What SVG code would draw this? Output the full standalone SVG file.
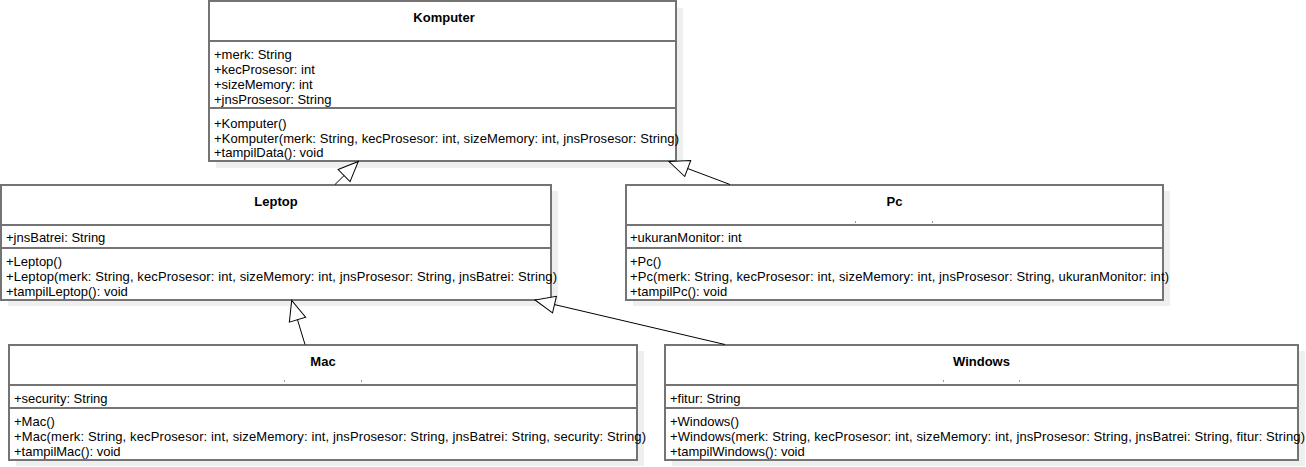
<svg xmlns="http://www.w3.org/2000/svg" width="1306" height="467" viewBox="0 0 1306 467">
<style>
.bg{fill:#ffffff}
.shadow{fill:#efefef}
.box{fill:#ffffff;stroke:#747474;stroke-width:2}
.sep{stroke:#747474;stroke-width:2}
.t{font-family:"Liberation Sans",Arial,sans-serif;font-size:13px;fill:#000}
.title{font-weight:bold;text-anchor:middle}
.edge{stroke:#000;stroke-width:1;fill:none;marker-end:url(#gen)}
.tick{fill:#9a9a9a}
</style>
<defs>
<marker id="gen" markerUnits="userSpaceOnUse" markerWidth="22" markerHeight="19" viewBox="-1 -1 22 19" refX="20" refY="8.5" orient="auto">
<path d="M0,0 L20,8.5 L0,17 Z" fill="#fff" stroke="#000" stroke-width="1"/>
</marker>
</defs>
<rect class="bg" x="0" y="0" width="1306" height="467"/>

<g id="komputer">
<rect class="shadow" x="216" y="8" width="467" height="160"/>
<rect class="box" x="209" y="1" width="467" height="160"/>
<line class="sep" x1="209" y1="41" x2="676" y2="41"/>
<line class="sep" x1="209" y1="108" x2="676" y2="108"/>
<text class="t title" x="444" y="21.5">Komputer</text>
<text class="t" x="214" y="59">+merk: String</text>
<text class="t" x="214" y="74">+kecProsesor: int</text>
<text class="t" x="214" y="89">+sizeMemory: int</text>
<text class="t" x="214" y="104">+jnsProsesor: String</text>
<text class="t" x="214" y="127.5">+Komputer()</text>
<text class="t" x="214" y="142.5" textLength="465" lengthAdjust="spacing">+Komputer(merk: String, kecProsesor: int, sizeMemory: int, jnsProsesor: String)</text>
<text class="t" x="214" y="157">+tampilData(): void</text>
</g>

<g id="leptop">
<rect class="shadow" x="8" y="191" width="550" height="115"/>
<rect class="box" x="1" y="185" width="550" height="115"/>
<line class="sep" x1="1" y1="225" x2="551" y2="225"/>
<line class="sep" x1="1" y1="248" x2="551" y2="248"/>
<text class="t title" x="276" y="205.5">Leptop</text>
<text class="t" x="6" y="242">+jnsBatrei: String</text>
<text class="t" x="6" y="266">+Leptop()</text>
<text class="t" x="6" y="281" textLength="551" lengthAdjust="spacing">+Leptop(merk: String, kecProsesor: int, sizeMemory: int, jnsProsesor: String, jnsBatrei: String)</text>
<text class="t" x="6" y="296">+tampilLeptop(): void</text>
</g>

<g id="pc">
<rect class="shadow" x="633" y="191" width="537" height="115"/>
<rect class="box" x="626" y="185" width="537" height="115"/>
<line class="sep" x1="626" y1="225" x2="1163" y2="225"/>
<line class="sep" x1="626" y1="248" x2="1163" y2="248"/>
<text class="t title" x="894.5" y="205.5">Pc</text>
<rect class="tick" x="855" y="221" width="1" height="2"/>
<rect class="tick" x="932" y="221" width="1" height="2"/>
<text class="t" x="630" y="242">+ukuranMonitor: int</text>
<text class="t" x="630" y="266">+Pc()</text>
<text class="t" x="630" y="281" textLength="539" lengthAdjust="spacing">+Pc(merk: String, kecProsesor: int, sizeMemory: int, jnsProsesor: String, ukuranMonitor: int)</text>
<text class="t" x="630" y="296">+tampilPc(): void</text>
</g>

<g id="mac">
<rect class="shadow" x="16" y="351" width="628" height="115"/>
<rect class="box" x="9" y="345" width="628" height="115"/>
<line class="sep" x1="9" y1="385" x2="637" y2="385"/>
<line class="sep" x1="9" y1="408" x2="637" y2="408"/>
<text class="t title" x="323" y="365.5">Mac</text>
<rect class="tick" x="284" y="380" width="1" height="2"/>
<rect class="tick" x="361" y="380" width="1" height="2"/>
<text class="t" x="14" y="402.5">+security: String</text>
<text class="t" x="14" y="426">+Mac()</text>
<text class="t" x="14" y="441" textLength="632" lengthAdjust="spacing">+Mac(merk: String, kecProsesor: int, sizeMemory: int, jnsProsesor: String, jnsBatrei: String, security: String)</text>
<text class="t" x="14" y="456">+tampilMac(): void</text>
</g>

<g id="windows">
<rect class="shadow" x="672" y="351" width="633" height="115"/>
<rect class="box" x="665" y="345" width="633" height="115"/>
<line class="sep" x1="665" y1="385" x2="1298" y2="385"/>
<line class="sep" x1="665" y1="408" x2="1298" y2="408"/>
<text class="t title" x="981.5" y="365.5">Windows</text>
<rect class="tick" x="943" y="380" width="1" height="2"/>
<rect class="tick" x="1019" y="380" width="1" height="2"/>
<text class="t" x="670" y="402.5">+fitur: String</text>
<text class="t" x="670" y="426">+Windows()</text>
<text class="t" x="670" y="441" textLength="635" lengthAdjust="spacing">+Windows(merk: String, kecProsesor: int, sizeMemory: int, jnsProsesor: String, jnsBatrei: String, fitur: String)</text>
<text class="t" x="670" y="456">+tampilWindows(): void</text>
</g>

<g id="connectors">
<line class="edge" x1="335" y1="184.5" x2="358.3" y2="161.5"/>
<line class="edge" x1="730" y1="184.5" x2="669" y2="161.5"/>
<line class="edge" x1="305" y1="344.5" x2="291.7" y2="300.5"/>
<line class="edge" x1="725" y1="344.5" x2="535" y2="300"/>
</g>
</svg>
